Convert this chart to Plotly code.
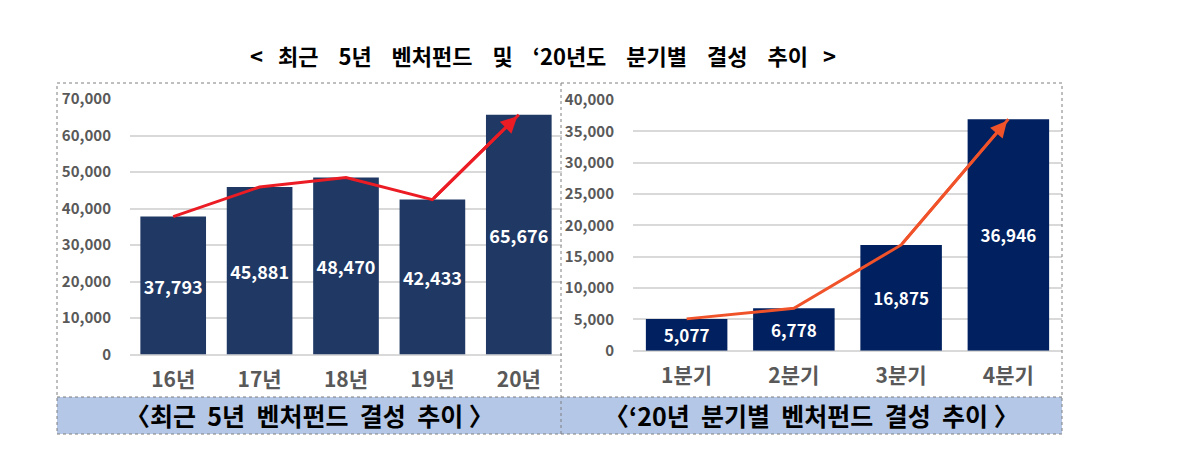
import plotly.graph_objects as go

# ---- data ----
years = ["16년", "17년", "18년", "19년", "20년"]
year_values = [37793, 45881, 48470, 42433, 65676]
quarters = ["1분기", "2분기", "3분기", "4분기"]
quarter_values = [5077, 6778, 16875, 36946]

title_text = "<   최근    5년    벤처펀드    및    ‘20년도    분기별    결성    추이   >"
left_caption = "〈최근  5년  벤처펀드  결성  추이 〉"
right_caption = "〈‘20년  분기별  벤처펀드  결성  추이 〉"

W, H = 1177, 473
FONT = "Noto Sans CJK KR"
OFF_X, OFF_Y = 8, 8  # page body margin

def px_x(v):
    return (v - OFF_X) / W

def px_y(v):
    return 1 - (v - OFF_Y) / H

fig = go.Figure()

left_idx = list(range(len(years)))
right_idx = list(range(len(quarters)))

fig.add_trace(go.Bar(
    x=left_idx, y=year_values, marker=dict(color="#1f3864", line=dict(width=0)),
    texttemplate="%{y:,}", textposition="inside", insidetextanchor="middle",
    constraintext="none", textangle=0,
    textfont=dict(family=FONT, size=18, color="white", weight="bold"),
    xaxis="x", yaxis="y", showlegend=False, hoverinfo="skip"))
fig.add_trace(go.Scatter(
    x=left_idx, y=year_values, mode="lines", line=dict(color="#ec1c24", width=3),
    xaxis="x", yaxis="y", showlegend=False, hoverinfo="skip"))

fig.add_trace(go.Bar(
    x=right_idx, y=quarter_values, marker=dict(color="#002060", line=dict(width=0)),
    texttemplate="%{y:,}", textposition="inside", insidetextanchor="middle",
    constraintext="none", textangle=0,
    textfont=dict(family=FONT, size=17, color="white", weight="bold"),
    xaxis="x2", yaxis="y2", showlegend=False, hoverinfo="skip"))
fig.add_trace(go.Scatter(
    x=right_idx, y=quarter_values, mode="lines", line=dict(color="#f0522a", width=3),
    xaxis="x2", yaxis="y2", showlegend=False, hoverinfo="skip"))

# arrows on the last segments
fig.add_annotation(x=left_idx[-1], y=year_values[-1], ax=left_idx[-2], ay=year_values[-2],
                   xref="x", yref="y", axref="x", ayref="y", text="", showarrow=True,
                   arrowhead=2, arrowsize=1.1, arrowwidth=3, arrowcolor="#ec1c24", standoff=2)
fig.add_annotation(x=right_idx[-1], y=quarter_values[-1], ax=right_idx[-2], ay=quarter_values[-2],
                   xref="x2", yref="y2", axref="x2", ayref="y2", text="", showarrow=True,
                   arrowhead=2, arrowsize=1.1, arrowwidth=3, arrowcolor="#f0522a", standoff=2)

tickfont = dict(family=FONT, size=15, color="#595959", weight="bold")
catfont = dict(family=FONT, size=21, color="#595959", weight="bold")

fig.update_layout(
    width=W, height=H, margin=dict(l=0, r=0, t=0, b=0, autoexpand=False),
    paper_bgcolor="white", plot_bgcolor="white", bargap=0.24,
    xaxis=dict(domain=[px_x(130), px_x(562)], range=[-0.5, 4.5], tickvals=left_idx,
               ticktext=years, tickfont=catfont, showgrid=False, zeroline=False,
               showline=False, ticks="", ticklabelstandoff=10, anchor="y", automargin=False),
    yaxis=dict(domain=[px_y(354.5), px_y(99)], range=[0, 70000], dtick=10000,
               tickformat=",", tickfont=tickfont, showgrid=True, gridcolor="#d9d9d9",
               gridwidth=2, zeroline=True, zerolinecolor="#d9d9d9", zerolinewidth=2,
               ticks="", ticklabelstandoff=18, anchor="x", automargin=False),
    xaxis2=dict(domain=[px_x(633), px_x(1062)], range=[-0.5, 3.5], tickvals=right_idx,
                ticktext=quarters, tickfont=catfont, showgrid=False, zeroline=False,
                showline=False, ticks="", ticklabelstandoff=10, anchor="y2", automargin=False),
    yaxis2=dict(domain=[px_y(350.7), px_y(100)], range=[0, 40000], dtick=5000,
                tickformat=",", tickfont=tickfont, showgrid=True, gridcolor="#d9d9d9",
                gridwidth=2, zeroline=True, zerolinecolor="#d9d9d9", zerolinewidth=2,
                ticks="", ticklabelstandoff=18, anchor="x2", automargin=False),
)

# caption band and dotted frame
box_l, box_r, box_t, box_b = 57, 1062, 83, 434
band_t = 397
mid = 561
fig.add_shape(type="rect", xref="paper", yref="paper",
              x0=px_x(box_l), x1=px_x(box_r), y0=px_y(box_b), y1=px_y(band_t),
              fillcolor="#b4c7e7", line=dict(width=0), layer="below")
dot = dict(color="#7f7f7f", width=1, dash="dot")
fig.add_shape(type="rect", xref="paper", yref="paper",
              x0=px_x(box_l), x1=px_x(box_r), y0=px_y(box_b), y1=px_y(box_t), line=dot)
fig.add_shape(type="line", xref="paper", yref="paper",
              x0=px_x(mid), x1=px_x(mid), y0=px_y(box_b), y1=px_y(box_t), line=dot)
fig.add_shape(type="line", xref="paper", yref="paper",
              x0=px_x(box_l), x1=px_x(box_r), y0=px_y(band_t), y1=px_y(band_t), line=dot)

cap_font = dict(family=FONT, size=25, color="black", weight="bold")
title_font = dict(family=FONT, size=22, color="black", weight="bold")
fig.add_annotation(x=px_x((box_l + mid) / 2), y=px_y(415), xref="paper", yref="paper",
                   xanchor="center", yanchor="middle", text=left_caption, showarrow=False,
                   font=cap_font)
fig.add_annotation(x=px_x((mid + box_r) / 2), y=px_y(415), xref="paper", yref="paper",
                   xanchor="center", yanchor="middle", text=right_caption, showarrow=False,
                   font=cap_font)
fig.add_annotation(x=px_x(543), y=px_y(55), xref="paper", yref="paper",
                   xanchor="center", yanchor="middle", text=title_text, showarrow=False,
                   font=title_font)

fig.write_html("out.html")
